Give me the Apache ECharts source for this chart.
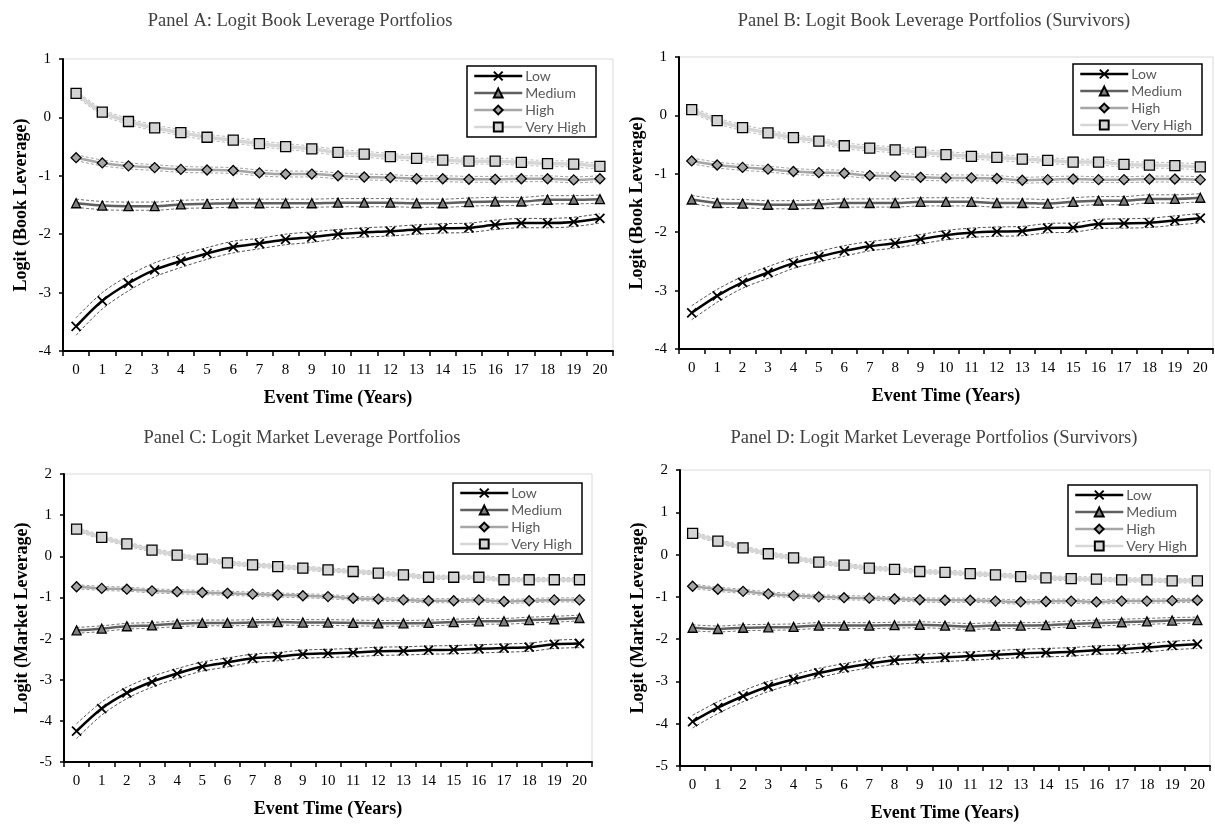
<!DOCTYPE html>
<html>
<head>
<meta charset="utf-8">
<script src="https://cdn.jsdelivr.net/npm/echarts@6/dist/echarts.min.js"></script>
<style>
  html, body { margin: 0; padding: 0; background: #fff; }
  #chart { width: 1215px; height: 827px; }
</style>
</head>
<body>
<div id="chart"></div>
<script>
// Event time tick labels (years)
const years = ['0','1','2','3','4','5','6','7','8','9','10','11','12','13','14','15','16','17','18','19','20'];
const groupNames = ['Low', 'Medium', 'High', 'Very High'];

// Panel A: logit book leverage
const aLow  = [-3.58,-3.14,-2.84,-2.61,-2.46,-2.33,-2.22,-2.16,-2.09,-2.05,-2.00,-1.97,-1.95,-1.92,-1.90,-1.89,-1.84,-1.81,-1.81,-1.79,-1.73];
const aMed  = [-1.47,-1.51,-1.52,-1.52,-1.49,-1.48,-1.47,-1.47,-1.47,-1.47,-1.46,-1.46,-1.46,-1.47,-1.47,-1.45,-1.44,-1.44,-1.41,-1.41,-1.40];
const aHigh = [-0.69,-0.78,-0.83,-0.86,-0.89,-0.90,-0.91,-0.95,-0.97,-0.97,-1.00,-1.02,-1.03,-1.05,-1.05,-1.06,-1.06,-1.05,-1.05,-1.07,-1.05];
const aVH   = [0.41,0.09,-0.07,-0.18,-0.26,-0.34,-0.39,-0.45,-0.50,-0.54,-0.60,-0.63,-0.67,-0.70,-0.73,-0.75,-0.75,-0.77,-0.79,-0.80,-0.84];

// Panel B: logit book leverage, survivors
const bLow  = [-3.38,-3.09,-2.86,-2.69,-2.53,-2.42,-2.32,-2.24,-2.19,-2.12,-2.05,-2.01,-1.99,-1.98,-1.93,-1.92,-1.86,-1.85,-1.84,-1.80,-1.76];
const bMed  = [-1.44,-1.50,-1.51,-1.53,-1.53,-1.52,-1.50,-1.50,-1.50,-1.48,-1.48,-1.48,-1.50,-1.50,-1.51,-1.48,-1.46,-1.46,-1.43,-1.43,-1.41];
const bHigh = [-0.78,-0.85,-0.89,-0.92,-0.96,-0.98,-0.99,-1.03,-1.04,-1.06,-1.07,-1.07,-1.08,-1.11,-1.10,-1.09,-1.10,-1.10,-1.09,-1.09,-1.10];
const bVH   = [0.10,-0.09,-0.21,-0.30,-0.38,-0.44,-0.52,-0.56,-0.59,-0.63,-0.67,-0.70,-0.72,-0.75,-0.77,-0.80,-0.80,-0.84,-0.85,-0.86,-0.88];

// Panel C: logit market leverage
const cLow  = [-4.25,-3.70,-3.32,-3.05,-2.85,-2.68,-2.58,-2.48,-2.44,-2.38,-2.36,-2.34,-2.31,-2.30,-2.28,-2.27,-2.25,-2.23,-2.21,-2.14,-2.12];
const cMed  = [-1.80,-1.76,-1.70,-1.68,-1.64,-1.62,-1.62,-1.61,-1.60,-1.61,-1.61,-1.62,-1.63,-1.63,-1.62,-1.60,-1.58,-1.58,-1.55,-1.53,-1.50];
const cHigh = [-0.74,-0.78,-0.80,-0.84,-0.86,-0.88,-0.90,-0.92,-0.94,-0.96,-0.98,-1.02,-1.04,-1.06,-1.08,-1.08,-1.06,-1.10,-1.08,-1.06,-1.06];
const cVH   = [0.66,0.46,0.30,0.15,0.03,-0.07,-0.16,-0.21,-0.25,-0.29,-0.33,-0.37,-0.41,-0.45,-0.51,-0.51,-0.51,-0.57,-0.57,-0.57,-0.57];

// Panel D: logit market leverage, survivors
const dLow  = [-3.95,-3.62,-3.35,-3.12,-2.95,-2.80,-2.68,-2.58,-2.50,-2.46,-2.43,-2.40,-2.37,-2.34,-2.32,-2.30,-2.26,-2.24,-2.20,-2.15,-2.12];
const dMed  = [-1.73,-1.76,-1.73,-1.72,-1.71,-1.68,-1.68,-1.68,-1.67,-1.66,-1.68,-1.70,-1.68,-1.68,-1.67,-1.64,-1.62,-1.60,-1.58,-1.56,-1.55];
const dHigh = [-0.75,-0.82,-0.87,-0.93,-0.97,-1.00,-1.02,-1.03,-1.05,-1.07,-1.08,-1.08,-1.10,-1.12,-1.11,-1.10,-1.12,-1.10,-1.10,-1.09,-1.08];
const dVH   = [0.50,0.32,0.16,0.02,-0.08,-0.18,-0.25,-0.32,-0.35,-0.40,-0.42,-0.45,-0.48,-0.52,-0.55,-0.57,-0.58,-0.60,-0.60,-0.62,-0.62];

// Half-widths of the dashed confidence bands
const aLowBand = [0.15,0.14,0.13,0.12,0.11,0.10,0.10,0.09,0.09,0.09,0.08,0.08,0.08,0.08,0.08,0.08,0.08,0.08,0.08,0.08,0.08];
const bLowBand = [0.12,0.11,0.10,0.10,0.09,0.09,0.09,0.08,0.08,0.08,0.08,0.08,0.08,0.08,0.08,0.08,0.08,0.08,0.08,0.08,0.08];
const cLowBand = [0.18,0.16,0.14,0.13,0.12,0.11,0.11,0.10,0.10,0.10,0.10,0.10,0.10,0.10,0.10,0.10,0.10,0.10,0.10,0.10,0.10];
const dLowBand = [0.15,0.14,0.13,0.12,0.11,0.11,0.10,0.10,0.10,0.10,0.10,0.10,0.10,0.10,0.10,0.10,0.10,0.10,0.10,0.10,0.10];
const otherBand = [0.07, 0.05, 0.05]; // Medium, High, Very High

const SERIF = "'Liberation Serif', 'DejaVu Serif', serif";
const SANS = "Lato, 'Open Sans', sans-serif";

// Line look for each group: line colour, width, marker, marker fill, band colour
const styles = [
  { line: '#000000', width: 2.5, symbol: 'path://M0,0L10,10M10,0L0,10', fill: '#000000', size: 9, band: '#505050' },
  { line: '#5f5f5f', width: 2.5, symbol: 'triangle', fill: '#7f7f7f', size: 9, band: '#707070' },
  { line: '#a6a6a6', width: 2.5, symbol: 'diamond', fill: '#a6a6a6', size: 10, band: '#a0a0a0' },
  { line: '#d6d6d6', width: 3.5, symbol: 'rect', fill: '#d4d4d4', size: 10, band: '#bdbdbd' }
];

const panels = [
  { title: 'Panel A: Logit Book Leverage Portfolios', tx: 300, ty: 21,
    grid: { left: 63, top: 59, width: 550, height: 292 }, min: -4, max: 1, nameGap: 33,
    yName: 'Logit (Book Leverage)', data: [aLow, aMed, aHigh, aVH], lowBand: aLowBand,
    legend: { left: 467, top: 66 } },
  { title: 'Panel B: Logit Book Leverage Portfolios (Survivors)', tx: 934, ty: 21,
    grid: { left: 679, top: 57, width: 534, height: 292 }, min: -4, max: 1, nameGap: 33,
    yName: 'Logit (Book Leverage)', data: [bLow, bMed, bHigh, bVH], lowBand: bLowBand,
    legend: { left: 1073, top: 64 } },
  { title: 'Panel C: Logit Market Leverage Portfolios', tx: 302, ty: 438,
    grid: { left: 64, top: 474, width: 528, height: 288 }, min: -5, max: 2, nameGap: 33,
    yName: 'Logit (Market Leverage)', data: [cLow, cMed, cHigh, cVH], lowBand: cLowBand,
    legend: { left: 453, top: 483 } },
  { title: 'Panel D: Logit Market Leverage Portfolios (Survivors)', tx: 934, ty: 438,
    grid: { left: 680, top: 470, width: 530, height: 296 }, min: -5, max: 2, nameGap: 33,
    yName: 'Logit (Market Leverage)', data: [dLow, dMed, dHigh, dVH], lowBand: dLowBand,
    legend: { left: 1068, top: 485 } }
];

const grids = [], xAxes = [], yAxes = [], series = [], legends = [], graphics = [];

panels.forEach((p, pi) => {
  grids.push(Object.assign({ show: true, borderColor: '#d9d9d9', borderWidth: 1, backgroundColor: 'transparent' }, p.grid));
  xAxes.push({
    type: 'category', gridIndex: pi, data: years, boundaryGap: true,
    name: 'Event Time (Years)', nameLocation: 'middle', nameGap: 38,
    nameTextStyle: { fontFamily: SERIF, fontWeight: 'bold', fontSize: 18, color: '#000' },
    axisLine: { onZero: false, lineStyle: { color: '#000', width: 2 } },
    axisTick: { show: true, length: 5, lineStyle: { color: '#000', width: 1.5 } },
    axisLabel: { fontFamily: SERIF, fontSize: 15, color: '#000', margin: 12 },
    splitLine: { show: false }
  });
  yAxes.push({
    type: 'value', gridIndex: pi, min: p.min, max: p.max, interval: 1,
    name: p.yName, nameLocation: 'middle', nameGap: p.nameGap, nameRotate: 90,
    nameTextStyle: { fontFamily: SERIF, fontWeight: 'bold', fontSize: 18, color: '#000' },
    axisLine: { show: true, lineStyle: { color: '#000', width: 2 } },
    axisTick: { show: true, length: 4, lineStyle: { color: '#000', width: 1.5 } },
    axisLabel: { fontFamily: SERIF, fontSize: 15, color: '#000', margin: 12 },
    splitLine: { show: false }
  });

  p.data.forEach((vals, gi) => {
    const st = styles[gi];
    const half = gi === 0 ? p.lowBand : vals.map(() => otherBand[gi - 1]);
    [1, -1].forEach(sign => {
      series.push({
        type: 'line', xAxisIndex: pi, yAxisIndex: pi, name: groupNames[gi] + (sign > 0 ? ' upper' : ' lower'),
        data: vals.map((v, i) => +(v + sign * half[i]).toFixed(3)),
        smooth: 0.3, symbol: 'none', silent: true, z: 1,
        lineStyle: { color: st.band, width: 1, type: [3, 2] }
      });
    });
    series.push({
      type: 'line', xAxisIndex: pi, yAxisIndex: pi, name: groupNames[gi],
      data: vals, smooth: 0.3, z: 3 + (3 - gi),
      symbol: st.symbol, symbolSize: st.size,
      lineStyle: { color: st.line, width: st.width },
      itemStyle: { color: st.fill, borderColor: '#000', borderWidth: gi === 0 ? 1.8 : 1.3 }
    });
  });

  legends.push({
    data: groupNames, orient: 'vertical', left: p.legend.left, top: p.legend.top,
    itemWidth: 48, itemHeight: 11, itemGap: 1,
    padding: [2, 10, 2, 6], borderColor: '#000', borderWidth: 1.5, backgroundColor: '#fff',
    lineStyle: { width: 2.5 },
    textStyle: { fontFamily: SANS, fontSize: 14, lineHeight: 16, color: '#595959', padding: [0, 0, 0, -2] },
    selectedMode: false
  });

  graphics.push({
    type: 'text', x: p.tx, y: p.ty,
    style: { text: p.title, font: '18.5px ' + SERIF, fill: '#404040', textAlign: 'center', textVerticalAlign: 'middle' }
  });
});

const chart = echarts.init(document.getElementById('chart'), null, { renderer: 'canvas' });
chart.setOption({
  animation: false,
  backgroundColor: '#fff',
  grid: grids, xAxis: xAxes, yAxis: yAxes, series: series, legend: legends,
  graphic: graphics
});
</script>
</body>
</html>
